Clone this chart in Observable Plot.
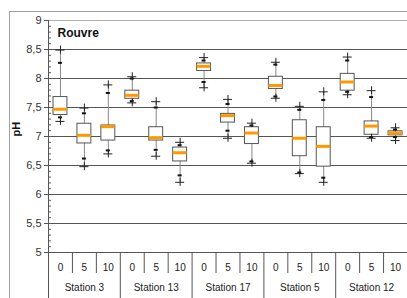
<!DOCTYPE html>
<html>
<head>
<meta charset="utf-8">
<script src="https://cdn.jsdelivr.net/npm/d3@7"></script>
<script src="https://cdn.jsdelivr.net/npm/@observablehq/plot@0.6"></script>
<style>
  body { margin: 0; background: white; }
  #wrap { position: relative; width: 407px; height: 298px; overflow: hidden; }
  #border { position: absolute; left: 9px; top: 11px; width: 600px; height: 600px; border: 1px solid #a0a0a0; pointer-events: none; }
</style>
</head>
<body>
<div id="wrap"><div id="border"></div></div>
<script>
const title = "Rouvre";
const yLabel = "pH";
const stations = ["Station 3", "Station 13", "Station 17", "Station 5", "Station 12"];
const depths = ["0", "5", "10"];
const yTicks = [5, 5.5, 6, 6.5, 7, 7.5, 8, 8.5, 9];

// order: station x depth
const outHigh  = [8.49, 7.49, 7.89, 8.03, 7.60, 6.90, 8.36, 7.64, 7.23, 8.28, 7.52, 7.77, 8.37, 7.79, 7.15];
const whiskHigh= [8.27, 7.40, 7.75, 8.00, 7.50, 6.85, 8.31, 7.56, 7.19, 8.24, 7.46, 7.63, 8.31, 7.68, 7.12];
const q3       = [7.68, 7.22, 7.19, 7.79, 7.16, 6.81, 8.26, 7.39, 7.16, 8.03, 7.28, 7.16, 8.08, 7.26, 7.09];
const median   = [7.47, 7.02, 7.17, 7.71, 6.98, 6.72, 8.21, 7.36, 7.06, 7.88, 6.97, 6.83, 7.94, 7.18, 7.06];
const q1       = [7.37, 6.88, 6.93, 7.65, 6.93, 6.57, 8.13, 7.24, 6.87, 7.82, 6.66, 6.48, 7.79, 7.03, 7.02];
const whiskLow = [7.33, 6.62, 6.76, 7.61, 6.77, 6.33, 7.94, 7.10, 6.57, 7.69, 6.38, 6.29, 7.77, 6.99, 6.99];
const outLow   = [7.26, 6.48, 6.70, 7.58, 6.66, 6.21, 7.84, 6.97, 6.54, 7.66, 6.36, 6.21, 7.72, 6.97, 6.93];

const rows = [];
stations.forEach((s, si) => depths.forEach((d, di) => {
  const i = si * depths.length + di;
  rows.push({station: s, depth: d, i, c: i + 0.5,
    outHigh: outHigh[i], whiskHigh: whiskHigh[i], q3: q3[i], median: median[i],
    q1: q1[i], whiskLow: whiskLow[i], outLow: outLow[i]});
}));
const nCat = rows.length;
const boundaries = d3.range(1, nCat + 1);
const depthBounds = boundaries.filter(b => b % depths.length !== 0);
const stationBounds = boundaries.filter(b => b % depths.length === 0);
const stationRows = stations.map((s, si) => ({station: s, c: si * depths.length + depths.length / 2}));
const minor = d3.range(50, 90).map(v => v / 10).filter(v => !yTicks.includes(v));
const fmt = d => String(d).replace(".", ",");
const grid = yTicks.filter(v => v > 5 && v < 9);

const plus = (field) => [
  Plot.ruleY(rows, {y: field, x1: "c", x2: "c", insetLeft: -4.5, insetRight: -4.5, stroke: "#222", strokeWidth: 1}),
  Plot.ruleX(rows, {x: "c", y1: field, y2: field, insetTop: -4, insetBottom: -4, stroke: "#222", strokeWidth: 1})
];
const cap = (field) => Plot.ruleY(rows, {y: field, x1: "c", x2: "c", insetLeft: -2, insetRight: -2, stroke: "#111", strokeWidth: 2});

const chart = Plot.plot({
  width: 407, height: 298,
  marginLeft: 48, marginRight: 0, marginTop: 20, marginBottom: 46,
  x: {domain: [0, nCat], axis: null},
  y: {domain: [5, 9], axis: null},
  style: {fontFamily: "'Liberation Sans', Arial, sans-serif", background: "transparent", overflow: "visible"},
  marks: [
    Plot.ruleY(grid, {y: d => d, x1: 0, x2: nCat, stroke: "#555", strokeWidth: 1}),
    Plot.ruleY([9], {y: d => d, x1: 0, x2: nCat, stroke: "#b0b0b0", strokeWidth: 1}),
    Plot.ruleY([5], {y: d => d, x1: 0, x2: nCat, stroke: "#555", strokeWidth: 1}),
    // y axis
    Plot.ruleX([0], {x: d => d, insetBottom: -46, stroke: "#555"}),
    Plot.ruleY(yTicks, {y: d => d, x1: 0, x2: 0, insetLeft: -4, stroke: "#555"}),
    Plot.ruleY(minor, {y: d => d, x1: 0, x2: 0, insetRight: -3, stroke: "#555"}),
    Plot.text(yTicks, {x: 0, y: d => d, text: fmt, textAnchor: "end", dx: -7, fontSize: 11, fill: "#333"}),
    Plot.text([yLabel], {frameAnchor: "left", dx: -32, rotate: -90, fontWeight: "bold", fontSize: 11, fill: "#111"}),
    // category axis
    Plot.ruleX(depthBounds, {x: d => d, y1: 5, y2: 5, insetBottom: -21, stroke: "#555"}),
    Plot.ruleX(stationBounds, {x: d => d, y1: 5, y2: 5, insetBottom: -46, stroke: "#555"}),
    Plot.text(rows, {x: "c", y: 5, text: "depth", dy: 15, fontSize: 10, fill: "#222"}),
    Plot.text(stationRows, {x: "c", y: 5, text: "station", dy: 35, fontSize: 10, fill: "#222"}),
    // boxes
    Plot.ruleX(rows, {x: "c", y1: "outLow", y2: "outHigh", stroke: "#888", strokeWidth: 1}),
    Plot.rect(rows, {x1: "i", x2: d => d.i + 1, y1: "q1", y2: "q3", insetLeft: 5, insetRight: 5, fill: "white", stroke: "#555", strokeWidth: 1}),
    Plot.ruleY(rows, {y: "median", x1: "i", x2: d => d.i + 1, insetLeft: 5, insetRight: 5, stroke: "#ff9900", strokeWidth: 3}),
    cap("whiskHigh"), cap("whiskLow"),
    ...plus("outHigh"), ...plus("outLow"),
    Plot.text([title], {frameAnchor: "top-left", dx: 9, dy: 13, lineAnchor: "middle", textAnchor: "start", fontWeight: "bold", fontSize: 12, fill: "#111"})
  ]
});
document.getElementById("wrap").insertBefore(chart, document.getElementById("border"));
</script>
</body>
</html>
